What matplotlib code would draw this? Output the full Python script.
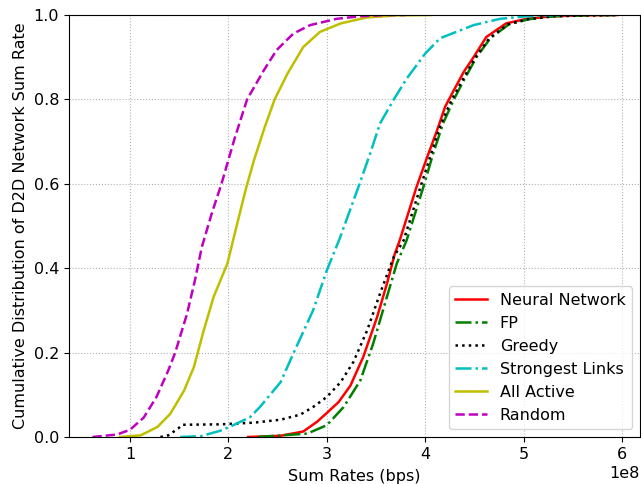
import numpy as np
import matplotlib
matplotlib.use("Agg")
import matplotlib.pyplot as plt

# CDF curves (x in units of 1e8 bps)
nn_x = [2.2, 2.53, 2.76, 2.90, 3.0, 3.12, 3.24, 3.37, 3.51, 3.61, 3.69, 3.74, 3.91, 4.02,
        4.12, 4.20, 4.29, 4.39, 4.49, 4.62, 4.82, 5.03, 5.29, 5.6, 5.95]
nn_y = [0, 0.003, 0.013, 0.036, 0.057, 0.083, 0.122, 0.19, 0.284, 0.363, 0.434, 0.466, 0.592, 0.664,
        0.727, 0.782, 0.822, 0.865, 0.90, 0.948, 0.98, 0.991, 0.997, 0.999, 1.0]

fp_x = [2.3, 2.80, 3.0, 3.17, 3.34, 3.47, 3.61, 3.71, 3.81, 3.98, 4.08, 4.18, 4.29, 4.39,
        4.52, 4.66, 4.85, 5.05, 5.3, 5.6, 5.95]
fp_y = [0, 0.008, 0.028, 0.071, 0.134, 0.221, 0.332, 0.411, 0.466, 0.592, 0.672, 0.743, 0.80, 0.845,
        0.90, 0.945, 0.978, 0.99, 0.997, 0.999, 1.0]

greedy_x = [1.31, 1.39, 1.49, 1.53, 1.92, 2.26, 2.53, 2.73, 2.86, 3.0, 3.14, 3.27, 3.41, 3.54,
            3.68, 3.78, 3.95, 4.06, 4.16, 4.27, 4.38, 4.51, 4.65, 4.84, 5.04, 5.3, 5.6, 5.95]
greedy_y = [0, 0.004, 0.02, 0.029, 0.030, 0.034, 0.041, 0.053, 0.071, 0.095, 0.13, 0.178, 0.253, 0.34,
            0.427, 0.466, 0.592, 0.672, 0.743, 0.80, 0.847, 0.90, 0.945, 0.978, 0.99, 0.997, 0.999, 1.0]

strong_x = [1.51, 1.72, 1.92, 2.05, 2.22, 2.32, 2.53, 2.66, 2.86, 3.0, 3.13, 3.32, 3.44, 3.54,
            3.68, 3.81, 4.0, 4.15, 4.49, 4.76, 5.03, 5.3, 5.5]
strong_y = [0, 0.002, 0.015, 0.028, 0.047, 0.071, 0.13, 0.198, 0.30, 0.395, 0.47, 0.592, 0.672, 0.743,
            0.80, 0.849, 0.909, 0.945, 0.976, 0.991, 0.997, 1.0, 1.0]

active_x = [0.9, 1.11, 1.28, 1.41, 1.55, 1.65, 1.75, 1.85, 1.99, 2.09, 2.18, 2.26, 2.37, 2.47,
            2.60, 2.76, 2.93, 3.14, 3.40, 3.7, 4.05]
active_y = [0, 0.004, 0.024, 0.055, 0.11, 0.166, 0.253, 0.332, 0.411, 0.506, 0.59, 0.656, 0.735, 0.80,
            0.861, 0.924, 0.96, 0.98, 0.994, 0.999, 1.0]

random_x = [0.62, 0.87, 1.0, 1.14, 1.27, 1.39, 1.46, 1.58, 1.66, 1.73, 1.83, 1.93, 2.06, 2.19,
            2.36, 2.49, 2.66, 2.83, 3.10, 3.34, 3.6, 3.8]
random_y = [0, 0.006, 0.017, 0.046, 0.095, 0.158, 0.20, 0.292, 0.371, 0.45, 0.529, 0.60, 0.705, 0.80,
            0.869, 0.917, 0.956, 0.976, 0.991, 0.997, 1.0, 1.0]

plt.rcParams['font.size'] = 11.5

fig = plt.figure(figsize=(6.41, 4.84), dpi=100)
ax = fig.add_axes([0.1076, 0.0971, 0.8908, 0.8719])

lw = 1.8
ax.plot(np.array(nn_x) * 1e8, nn_y, 'r-', lw=lw, label='Neural Network')
ax.plot(np.array(fp_x) * 1e8, fp_y, 'g-.', lw=lw, label='FP')
ax.plot(np.array(greedy_x) * 1e8, greedy_y, 'k:', lw=lw, label='Greedy')
ax.plot(np.array(strong_x) * 1e8, strong_y, 'c-.', lw=lw, label='Strongest Links')
ax.plot(np.array(active_x) * 1e8, active_y, 'y-', lw=lw, label='All Active')
ax.plot(np.array(random_x) * 1e8, random_y, 'm--', lw=lw, label='Random')

ax.set_xlim(0.381e8, 6.18e8)
ax.set_ylim(0, 1)
ax.set_xticks(np.arange(1, 7) * 1e8)
ax.grid(linestyle=':', color='0.7')
ax.set_xlabel('Sum Rates (bps)', labelpad=5)
ax.set_ylabel('Cumulative Distribution of D2D Network Sum Rate')
ax.legend(loc='lower right')

fig.savefig('out.png', dpi=100)
